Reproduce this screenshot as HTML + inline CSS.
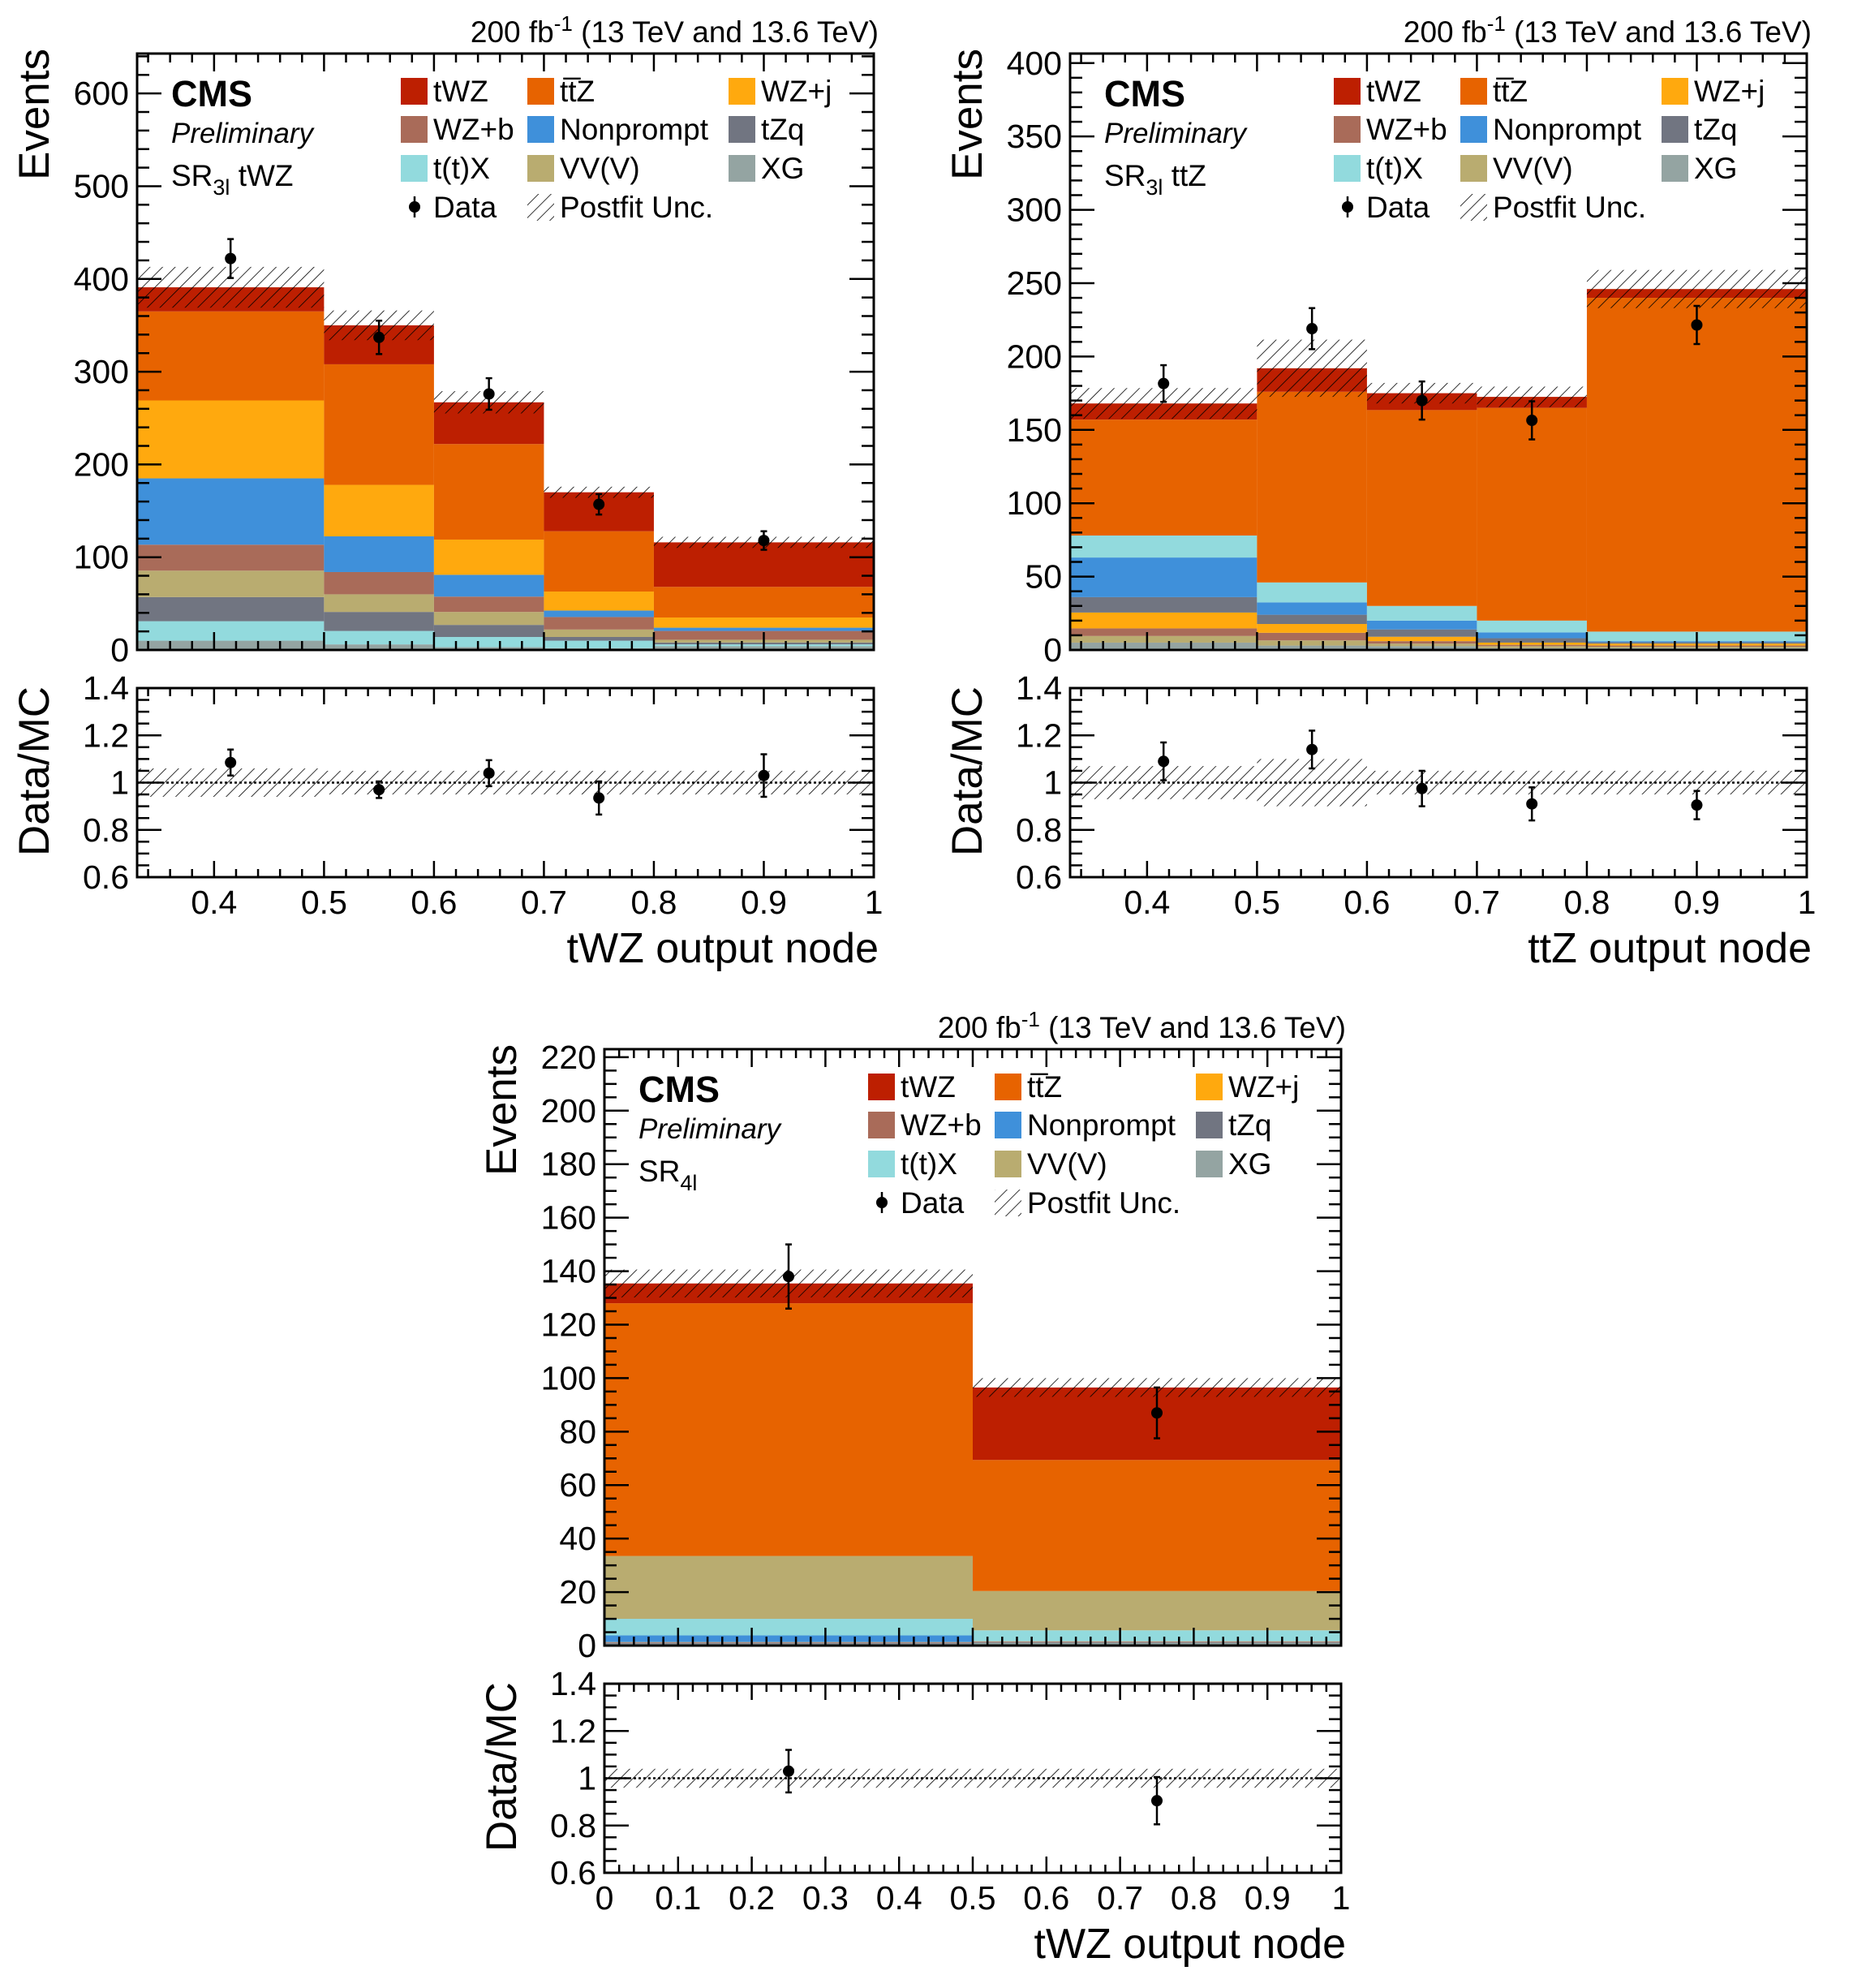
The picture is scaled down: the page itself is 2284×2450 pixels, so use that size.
<!DOCTYPE html>
<html><head><meta charset="utf-8">
<style>
html,body{margin:0;padding:0;background:#fff;}
svg{display:block;font-family:"Liberation Sans",sans-serif;}
</style></head>
<body>
<svg id="chart" xmlns="http://www.w3.org/2000/svg" width="2284" height="2450" viewBox="0 0 2284 2450">
<defs>
<pattern id="hatch" patternUnits="userSpaceOnUse" width="11" height="11" patternTransform="rotate(45)">
<line x1="0" y1="0" x2="0" y2="11" stroke="#000" stroke-width="1.6"/>
</pattern>
</defs>
</svg>
<script>
// ---------- process names and colours ----------
const processNames = ["tWZ","ttZ","WZj","WZb","NP","tZq","ttX","VV","XG"];
const processColors = {tWZ:"#bd1f01",ttZ:"#e76300",WZj:"#ffa90e",WZb:"#a96b59",NP:"#3f90da",tZq:"#717581",ttX:"#92dadd",VV:"#b9ac70",XG:"#94a4a2"};

// ---------- Panel 1: SR3l tWZ ----------
const p1Edges = [0.33,0.5,0.6,0.7,0.8,1.0];
const p1Order = ["XG","ttX","tZq","VV","WZb","NP","WZj","ttZ","tWZ"];
const p1_XG  = [10,6,3,2,4];
const p1_ttX = [21,14.5,11,8,2];
const p1_tZq = [26,20.5,13,4,2];
const p1_VV  = [28.5,19,14,8,3];
const p1_WZb = [28,24,16.5,13.5,9.5];
const p1_NP  = [71.5,38.5,23.5,7,3.5];
const p1_WZj = [84,55.5,38,20.5,11];
const p1_ttZ = [96,130,103,65,33];
const p1_tWZ = [26,42,45,42,48];
const p1Unc  = [22,16,12,6,6];
const p1Data = [422,337,276,157,118];
const p1DataErr = [21,18,17,11,10];
const p1Ratio = [1.085,0.97,1.04,0.935,1.03];
const p1RatioErr = [0.055,0.035,0.055,0.07,0.09];
const p1RatioUnc = [0.06,0.05,0.05,0.05,0.05];
const p1YTicks = [0,100,200,300,400,500,600];

// ---------- Panel 2: SR3l ttZ ----------
const p2Edges = [0.33,0.5,0.6,0.7,0.8,1.0];
const p2Order = ["XG","VV","WZb","WZj","tZq","NP","ttX","ttZ","tWZ"];
const p2_XG  = [5,3,2.6,1.3,1.3];
const p2_VV  = [4.5,3.5,1.7,1.3,0.9];
const p2_WZb = [5.2,5.2,1.7,0.9,0.8];
const p2_WZj = [10.8,6,3,1.5,1.3];
const p2_tZq = [10.5,6.3,5,3,0.9];
const p2_NP  = [27,8.4,6,4,0.8];
const p2_ttX = [15,13.6,10,8,6.5];
const p2_ttZ = [79,130,133.5,145,227.5];
const p2_tWZ = [11,16,11.5,7.5,6];
const p2Unc  = [10.5,19.5,7,7,13];
const p2Data = [181.6,219,170,156.5,221.5];
const p2DataErr = [12.5,14,13,13,13];
const p2Ratio = [1.09,1.14,0.975,0.91,0.905];
const p2RatioErr = [0.08,0.08,0.075,0.07,0.06];
const p2RatioUnc = [0.07,0.1,0.05,0.05,0.05];
const p2YTicks = [0,50,100,150,200,250,300,350,400];

// ---------- Panel 3: SR4l ----------
const p3Edges = [0,0.5,1.0];
const p3Order = ["XG","tZq","WZb","WZj","NP","ttX","VV","ttZ","tWZ"];
const p3_XG  = [0.7,1];
const p3_tZq = [0.3,0.3];
const p3_WZb = [0.2,0.2];
const p3_WZj = [0.1,0.1];
const p3_NP  = [2.5,0.1];
const p3_ttX = [6.2,4];
const p3_VV  = [23.5,14.7];
const p3_ttZ = [94.5,49];
const p3_tWZ = [7.4,27.1];
const p3Unc  = [5.2,3.5];
const p3Data = [138,87];
const p3DataErr = [12,9.5];
const p3Ratio = [1.03,0.905];
const p3RatioErr = [0.09,0.1];
const p3RatioUnc = [0.04,0.04];
const p3YTicks = [0,20,40,60,80,100,120,140,160,180,200,220];

const p1Values = {XG:p1_XG,ttX:p1_ttX,tZq:p1_tZq,VV:p1_VV,WZb:p1_WZb,NP:p1_NP,WZj:p1_WZj,ttZ:p1_ttZ,tWZ:p1_tWZ};
const p2Values = {XG:p2_XG,ttX:p2_ttX,tZq:p2_tZq,VV:p2_VV,WZb:p2_WZb,NP:p2_NP,WZj:p2_WZj,ttZ:p2_ttZ,tWZ:p2_tWZ};
const p3Values = {XG:p3_XG,ttX:p3_ttX,tZq:p3_tZq,VV:p3_VV,WZb:p3_WZb,NP:p3_NP,WZj:p3_WZj,ttZ:p3_ttZ,tWZ:p3_tWZ};

const NS = "http://www.w3.org/2000/svg";
const svg = document.getElementById("chart");
function mk(tag, attrs, parent, text){
  const e = document.createElementNS(NS, tag);
  for (const k in attrs) e.setAttribute(k, attrs[k]);
  if (text !== undefined) e.textContent = text;
  (parent||svg).appendChild(e);
  return e;
}
function fmt(v){ return (Math.round(v*100)/100).toString(); }

function drawPanel(P){
  const g = mk("g", {});
  
  
  const L = P.ox+169, R = P.ox+1077, T = P.oy+66, B = P.oy+801;
  const RT = P.oy+848, RB = P.oy+1081;
  const xs = v => L + (v - P.xmin)/(P.xmax - P.xmin)*(R-L);
  const ys = v => B - v/P.ymax*(B-T);
  const yr = v => RB - (v-0.6)/0.8*(RB-RT);
  const n = P.edges.length-1;

  const totals = [];
  for (let i=0;i<n;i++){
    let cum = 0;
    const x0 = xs(P.edges[i]), x1 = xs(P.edges[i+1]);
    P.order.forEach(proc=>{
      const v = P.values[proc][i];
      const r = mk("rect",{x:x0,y:ys(cum+v),width:x1-x0,height:Math.max(0,ys(cum)-ys(cum+v)),fill:processColors[proc]},g);
      
      
      cum += v;
    });
    totals.push(cum);
  }
  for (let i=0;i<n;i++){
    const x0 = xs(P.edges[i]), x1 = xs(P.edges[i+1]);
    const r = mk("rect",{x:x0,y:ys(totals[i]+P.unc[i]),width:x1-x0,height:ys(totals[i]-P.unc[i])-ys(totals[i]+P.unc[i]),fill:"url(#hatch)"},g);
    
    
    const rr = mk("rect",{x:x0,y:yr(1+P.runc[i]),width:x1-x0,height:yr(1-P.runc[i])-yr(1+P.runc[i]),fill:"url(#hatch)"},g);
    
    
  }
  const l1 = mk("line",{x1:L,x2:R,y1:yr(1),y2:yr(1),stroke:"#000","stroke-width":2.5,"stroke-dasharray":"3,3"},g);
  
  

  for (let i=0;i<n;i++){
    const cx = xs((P.edges[i]+P.edges[i+1])/2);
    const pts = [[ys(P.data[i]),ys(P.data[i]+P.derr[i]),ys(P.data[i]-P.derr[i]),'data-point-bin'],
                 [yr(P.ratio[i]),yr(P.ratio[i]+P.rerr[i]),yr(P.ratio[i]-P.rerr[i]),'ratio-point-bin']];
    pts.forEach(p=>{
      const dg = mk("g",{},g);
      
      
      mk("line",{x1:cx,x2:cx,y1:p[1],y2:p[2],stroke:"#000","stroke-width":2.5},dg);
      mk("line",{x1:cx-4,x2:cx+4,y1:p[1],y2:p[1],stroke:"#000","stroke-width":2.5},dg);
      mk("line",{x1:cx-4,x2:cx+4,y1:p[2],y2:p[2],stroke:"#000","stroke-width":2.5},dg);
      mk("circle",{cx:cx,cy:p[0],r:7,fill:"#000"},dg);
    });
  }

  const f1 = mk("rect",{x:L,y:T,width:R-L,height:B-T,fill:"none",stroke:"#000","stroke-width":3},g);
  
  
  const f2 = mk("rect",{x:L,y:RT,width:R-L,height:RB-RT,fill:"none",stroke:"#000","stroke-width":3},g);
  
  

  const tk = mk("g",{stroke:"#000","stroke-width":2.5},g);
  
  
  const eps = 1e-9;
  for (let k=Math.ceil(P.xmin/0.02-eps); k*0.02<=P.xmax+eps; k++){
    const v = k*0.02, x = xs(v);
    const major = Math.abs(v*10-Math.round(v*10))<1e-6;
    const lm = major?22:11, lr = major?20:10;
    mk("line",{x1:x,x2:x,y1:B,y2:B-lm},tk); mk("line",{x1:x,x2:x,y1:T,y2:T+lm},tk);
    mk("line",{x1:x,x2:x,y1:RB,y2:RB-lr},tk); mk("line",{x1:x,x2:x,y1:RT,y2:RT+lr},tk);
  }
  for (let v=0; v<=P.ymax+eps; v+=P.yminor){
    const y = ys(v);
    const major = Math.abs(v/P.ymajor-Math.round(v/P.ymajor))<1e-6;
    const len = major?30:15;
    mk("line",{x1:L,x2:L+len,y1:y,y2:y},tk); mk("line",{x1:R,x2:R-len,y1:y,y2:y},tk);
  }
  for (let k=0;k<=16;k++){
    const v = 0.6+k*0.05, y = yr(v);
    const len = (k%4===0)?30:15;
    mk("line",{x1:L,x2:L+len,y1:y,y2:y},tk); mk("line",{x1:R,x2:R-len,y1:y,y2:y},tk);
  }

  P.yticks.forEach(v=>{
    const t = mk("text",{x:L-10,y:ys(v)+14,"font-size":41,"text-anchor":"end"},g,String(v));
    
    
  });
  [0.6,0.8,1,1.2,1.4].forEach(v=>{
    const t = mk("text",{x:L-10,y:yr(v)+14,"font-size":41,"text-anchor":"end"},g,String(v));
    
    
  });
  P.xticks.forEach(v=>{
    const t = mk("text",{x:xs(v),y:RB+45,"font-size":41,"text-anchor":"middle"},g,fmt(v));
    
    
  });

  const yt = mk("text",{x:0,y:0,"font-size":53,"text-anchor":"end",transform:`translate(${P.ox+60},${T-6}) rotate(-90)`},g,"Events");
  
  
  const rt = mk("text",{x:0,y:0,"font-size":53,"text-anchor":"end",transform:`translate(${P.ox+60},${RT-2}) rotate(-90)`},g,"Data/MC");
  
  
  const xt = mk("text",{x:R+6,y:P.oy+1186,"font-size":52,"text-anchor":"end"},g,P.xtitle);
  
  

  const lu = mk("text",{x:R+6,y:P.oy+52,"font-size":37,"text-anchor":"end"},g);
  
  
  mk("tspan",{},lu,"200 fb");
  mk("tspan",{dy:-14,"font-size":26},lu,"-1");
  mk("tspan",{dy:14},lu," (13 TeV and 13.6 TeV)");

  const c = mk("text",{x:L+42,y:T+65,"font-size":45,"font-weight":"bold"},g,"CMS");
  
  
  const pr = mk("text",{x:L+42,y:T+110,"font-size":35,"font-style":"italic"},g,"Preliminary");
  
  
  const sr = mk("text",{x:L+42,y:T+163,"font-size":37},g);
  
  
  mk("tspan",{},sr,"SR");
  mk("tspan",{dy:11,"font-size":27},sr,P.srSub);
  mk("tspan",{dy:-11},sr,P.srText);

  const lg = mk("g",{},g);
  
  
  const cols = [L+325, L+481, L+729];
  const rows = [T+46, T+93, T+141, T+189];
  const entries = [["tWZ","tWZ"],["ttZ","tt\u0305Z"],["WZj","WZ+j"],["WZb","WZ+b"],["NP","Nonprompt"],["tZq","tZq"],["ttX","t(t)X"],["VV","VV(V)"],["XG","XG"]];
  entries.forEach((e,i)=>{
    const cx = cols[i%3], cy = rows[Math.floor(i/3)];
    const eg = mk("g",{},lg);
    
    
    mk("rect",{x:cx,y:cy-16,width:33,height:33,fill:processColors[e[0]]},eg);
    mk("text",{x:cx+40,y:cy+13,"font-size":37},eg,e[1]);
  });
  const de = mk("g",{},lg);
  
  
  const dcx = cols[0]+17, dcy = rows[3];
  mk("line",{x1:dcx,x2:dcx,y1:dcy-13,y2:dcy+13,stroke:"#000","stroke-width":2.5},de);
  mk("circle",{cx:dcx,cy:dcy,r:7,fill:"#000"},de);
  mk("text",{x:cols[0]+40,y:dcy+13,"font-size":37},de,"Data");
  const ue = mk("g",{},lg);
  
  
  mk("rect",{x:cols[1],y:dcy-16,width:33,height:33,fill:"url(#hatch)"},ue);
  mk("text",{x:cols[1]+40,y:dcy+13,"font-size":37},ue,"Postfit Unc.");
}

drawPanel({name:"panel-sr3l-twz",ox:0,oy:0,xmin:0.33,xmax:1,ymax:643,edges:p1Edges,order:p1Order,values:p1Values,
  unc:p1Unc,data:p1Data,derr:p1DataErr,ratio:p1Ratio,rerr:p1RatioErr,runc:p1RatioUnc,yticks:p1YTicks,ymajor:100,yminor:20,
  xticks:[0.4,0.5,0.6,0.7,0.8,0.9,1],xtitle:"tWZ output node",srSub:"3l",srText:" tWZ"});
drawPanel({name:"panel-sr3l-ttz",ox:1150,oy:0,xmin:0.33,xmax:1,ymax:406.5,edges:p2Edges,order:p2Order,values:p2Values,
  unc:p2Unc,data:p2Data,derr:p2DataErr,ratio:p2Ratio,rerr:p2RatioErr,runc:p2RatioUnc,yticks:p2YTicks,ymajor:50,yminor:10,
  xticks:[0.4,0.5,0.6,0.7,0.8,0.9,1],xtitle:"ttZ output node",srSub:"3l",srText:" ttZ"});
drawPanel({name:"panel-sr4l",ox:576,oy:1227,xmin:0,xmax:1,ymax:223,edges:p3Edges,order:p3Order,values:p3Values,
  unc:p3Unc,data:p3Data,derr:p3DataErr,ratio:p3Ratio,rerr:p3RatioErr,runc:p3RatioUnc,yticks:p3YTicks,ymajor:20,yminor:5,
  xticks:[0,0.1,0.2,0.3,0.4,0.5,0.6,0.7,0.8,0.9,1],xtitle:"tWZ output node",srSub:"4l",srText:""});
</script>
</body></html>
